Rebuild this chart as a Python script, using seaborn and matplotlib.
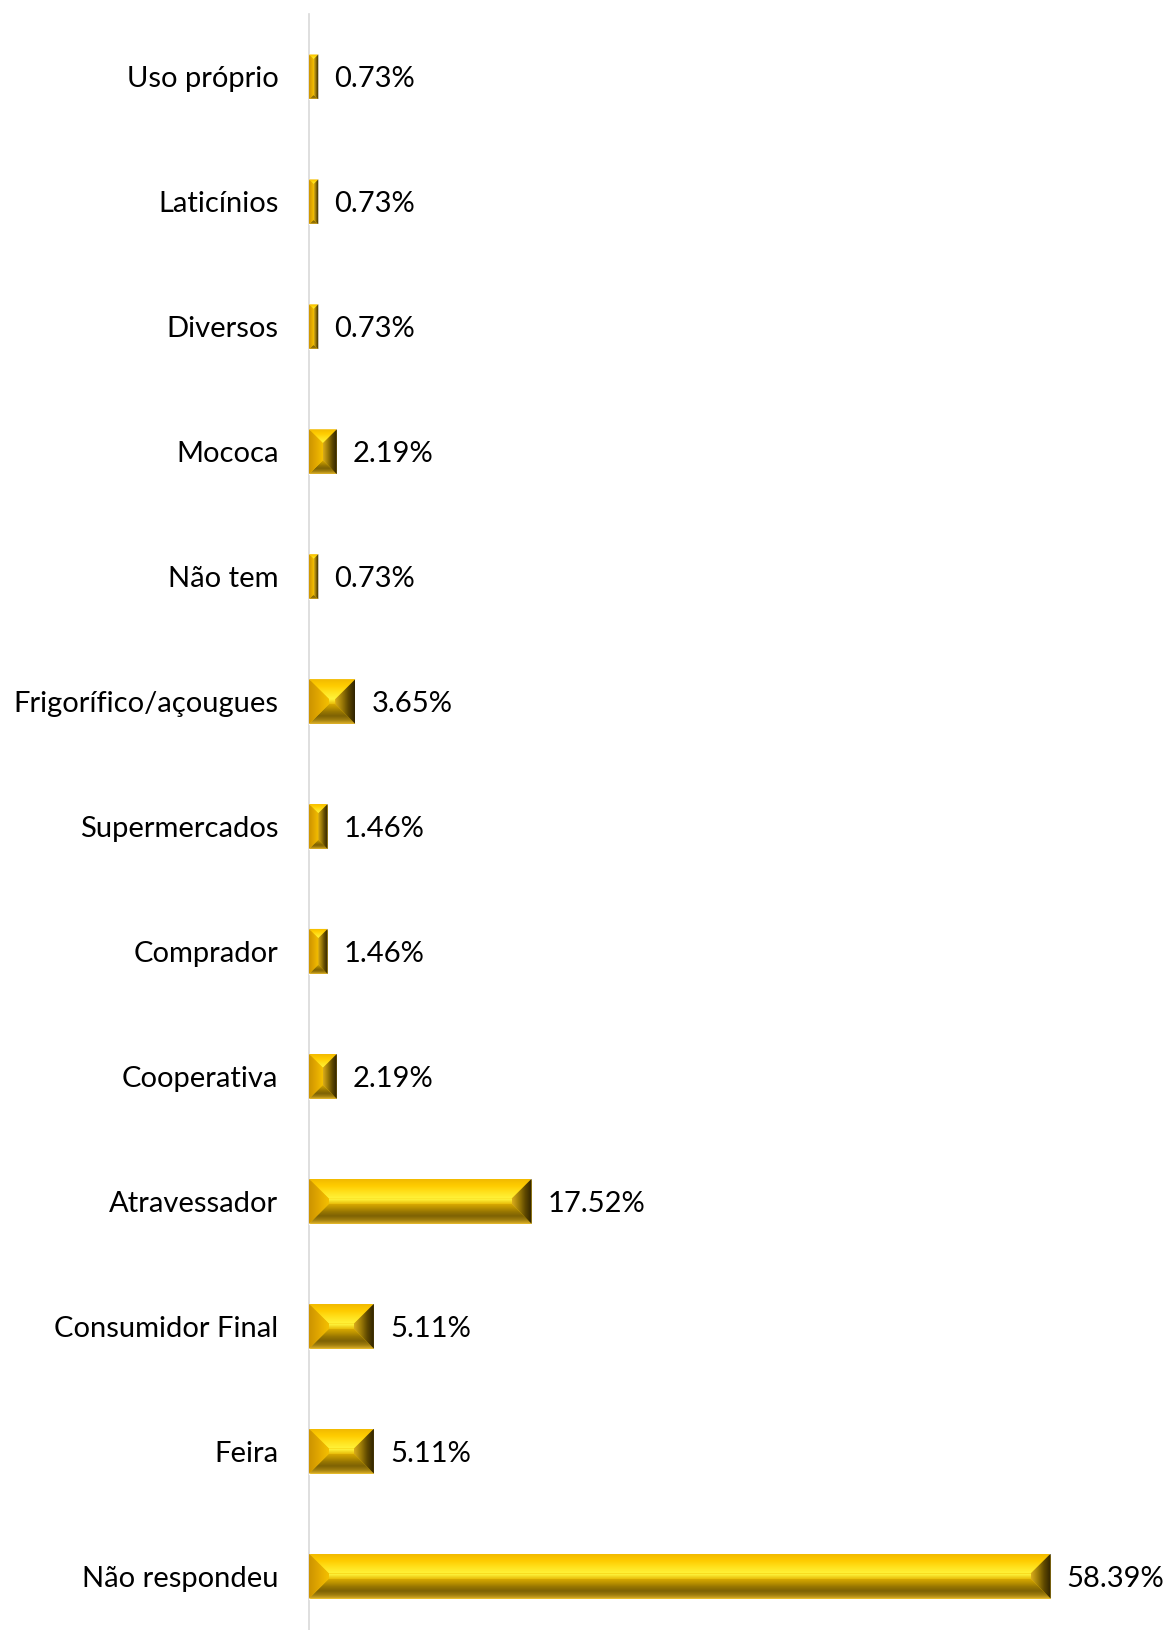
import numpy as np
import pandas as pd
import matplotlib
matplotlib.use('Agg')
import matplotlib.pyplot as plt
import seaborn as sns
from matplotlib.patches import Polygon
from matplotlib.colors import LinearSegmentedColormap

categories = ["Uso próprio", "Laticínios", "Diversos", "Mococa", "Não tem",
              "Frigorífico/açougues", "Supermercados", "Comprador", "Cooperativa",
              "Atravessador", "Consumidor Final", "Feira", "Não respondeu"]
values = [0.73, 0.73, 0.73, 2.19, 0.73, 3.65, 1.46, 1.46, 2.19, 17.52, 5.11, 5.11, 58.39]
value_labels = [f"{v:.2f}%" for v in values]

sns.set_theme(style='white')
plt.rcParams['font.family'] = ['Lato', 'DejaVu Sans']

W, H = 1165, 1630
fig = plt.figure(figsize=(W / 100, H / 100), dpi=100)
ax_left, ax_right = 309, 1160
ax_top, ax_bottom = 14.5, 1638.5
ax = fig.add_axes([ax_left / W, 1 - ax_bottom / H, (ax_right - ax_left) / W, (ax_bottom - ax_top) / H])

df = pd.DataFrame({'cat': categories, 'val': values})
sns.barplot(data=df, x='val', y='cat', orient='h', width=0.36, color='#F2C200',
            saturation=1, ax=ax, zorder=1, errorbar=None)
XMAX = 67
ax.set_xlim(0, XMAX)
ax.set_ylim(len(categories) - 0.5, -0.5)

sx = ax.bbox.width / XMAX
sy = ax.bbox.height / len(categories)

top_cmap = LinearSegmentedColormap.from_list('top', ['#F2BA00', '#FFCC00', '#FFE21E', '#FFF43C'])
bot_cmap = LinearSegmentedColormap.from_list('bot', ['#D8A800', '#B89000', '#957402', '#7E6204', '#A07E0E', '#E2B42A'])
left_cmap = LinearSegmentedColormap.from_list('left', ['#CC9400', '#E2A800', '#F4C000'])
right_cmap = LinearSegmentedColormap.from_list('right', ['#DAAC1C', '#A07E08', '#5E4800', '#2E2200'])
inner_cmap = LinearSegmentedColormap.from_list('inner', ['#FFF43C', '#E8BC08'])

grad = np.linspace(0, 1, 128)


def grad_fill(xy, extent, cmap, vertical):
    arr = grad.reshape(-1, 1) if vertical else grad.reshape(1, -1)
    im = ax.imshow(arr, cmap=cmap, extent=extent, origin='upper', aspect='auto',
                   interpolation='bilinear', zorder=2)
    poly = Polygon(xy, closed=True, fill=False, lw=0, transform=ax.transData)
    ax.add_patch(poly)
    im.set_clip_path(poly)


DEPTH = 20.0
for p in list(ax.patches):
    x0 = p.get_x()
    x1 = x0 + p.get_width()
    y0 = p.get_y()
    y1 = y0 + p.get_height()
    wpx = p.get_width() * sx
    hpx = p.get_height() * sy
    d = min(DEPTH, wpx / 2, hpx / 2)
    dx = d / sx
    dy = d / sy
    # top face
    grad_fill([(x0, y0), (x1, y0), (x1 - dx, y0 + dy), (x0 + dx, y0 + dy)],
              (x0, x1, y0 + dy, y0), top_cmap, True)
    # bottom face
    grad_fill([(x0, y1), (x1, y1), (x1 - dx, y1 - dy), (x0 + dx, y1 - dy)],
              (x0, x1, y1, y1 - dy), bot_cmap, True)
    # left face
    grad_fill([(x0, y0), (x0 + dx, y0 + dy), (x0 + dx, y1 - dy), (x0, y1)],
              (x0, x0 + dx, y1, y0), left_cmap, False)
    # right face
    grad_fill([(x1, y0), (x1 - dx, y0 + dy), (x1 - dx, y1 - dy), (x1, y1)],
              (x1 - dx, x1, y1, y0), right_cmap, False)
    # inner band
    if (y1 - dy) - (y0 + dy) > 1e-6 and (x1 - dx) - (x0 + dx) > 1e-6:
        grad_fill([(x0 + dx, y0 + dy), (x1 - dx, y0 + dy), (x1 - dx, y1 - dy), (x0 + dx, y1 - dy)],
                  (x0 + dx, x1 - dx, y1 - dy, y0 + dy), inner_cmap, True)

ax.set_xlim(0, XMAX)
ax.set_ylim(len(categories) - 0.5, -0.5)

FS = 21
texts = ax.bar_label(ax.containers[0], labels=value_labels, padding=11.5, fontsize=FS, color='black')
for t in texts:
    t.set_va('center_baseline')

ax.set_xlabel('')
ax.set_ylabel('')
ax.xaxis.set_visible(False)
ax.tick_params(axis='y', length=0, pad=22, labelsize=FS, labelcolor='black')
for s in ['top', 'right', 'bottom']:
    ax.spines[s].set_visible(False)
ax.spines['left'].set_color('#D9D9D9')
ax.spines['left'].set_linewidth(1.2)
ax.spines['left'].set_zorder(0.5)
ax.set_facecolor('white')
fig.patch.set_facecolor('white')

fig.savefig('out.png', dpi=100)
